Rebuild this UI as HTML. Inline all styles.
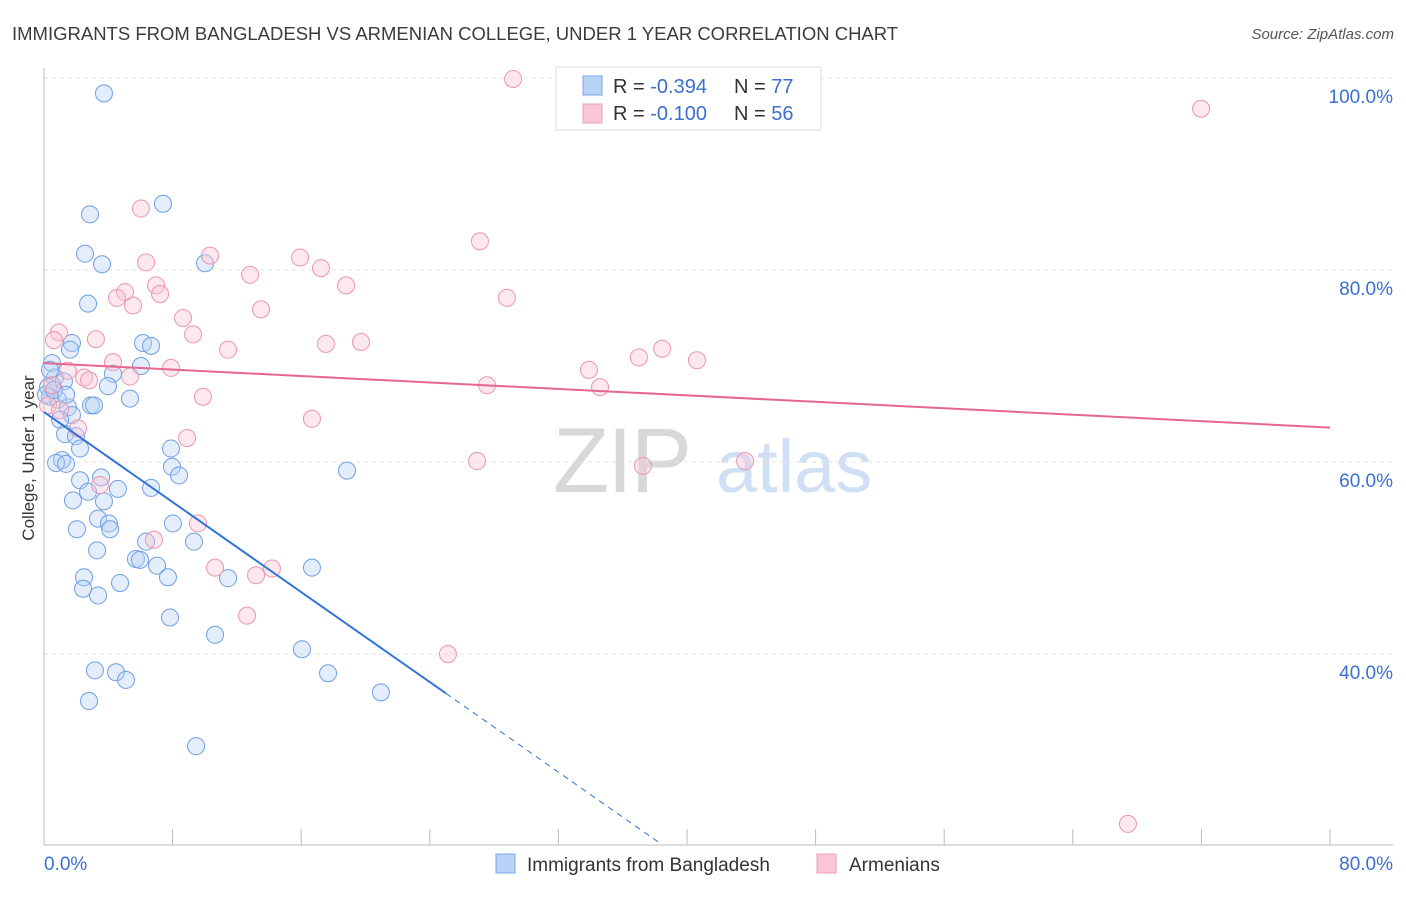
<!DOCTYPE html>
<html><head><meta charset="utf-8"><style>
body{margin:0;background:#fff;font-family:"Liberation Sans",sans-serif;}
svg text{font-family:"Liberation Sans",sans-serif;}
</style></head><body>
<svg id="chart" width="1406" height="892" viewBox="0 0 1406 892" xmlns="http://www.w3.org/2000/svg">
<text x="12" y="40" font-size="18.5" fill="#3b3b3b">IMMIGRANTS FROM BANGLADESH VS ARMENIAN COLLEGE, UNDER 1 YEAR CORRELATION CHART</text>
<text x="1394" y="39" font-size="15" fill="#555" text-anchor="end" font-style="italic">Source: ZipAtlas.com</text>
<g>
<text x="553" y="492" font-size="92" fill="#d8d8d8" font-family="Liberation Serif" letter-spacing="-2">ZIP</text>
<text x="716" y="492" font-size="74" fill="#cfe0f5">atlas</text>
</g>
<g id="grid"></g>
<g id="axes"></g>
<g id="series-blue"></g>
<g id="series-pink"></g>
<g id="trends"></g>
<text transform="translate(34,458) rotate(-90)" font-size="17" fill="#333" text-anchor="middle">College, Under 1 year</text>
<g>
<rect x="556" y="67" width="265" height="63" fill="#fff" stroke="#ddd"/>
<rect x="583" y="76" width="19" height="19" fill="#b8d3f5" stroke="#7aa8e6"/>
<rect x="583" y="104" width="19" height="19" fill="#f9c6d5" stroke="#ec9fb6"/>
<text x="613" y="93" font-size="20" fill="#333">R = <tspan fill="#3a6fd1">-0.394</tspan></text>
<text x="734" y="93" font-size="20" fill="#333">N = <tspan fill="#3a6fd1">77</tspan></text>
<text x="613" y="120" font-size="20" fill="#333">R = <tspan fill="#3a6fd1">-0.100</tspan></text>
<text x="734" y="120" font-size="20" fill="#333">N = <tspan fill="#3a6fd1">56</tspan></text>
</g>
<g>
<rect x="496" y="854" width="19" height="19" fill="#b8d3f5" stroke="#7aa8e6"/>
<text x="527" y="871" font-size="19" fill="#333">Immigrants from Bangladesh</text>
<rect x="817" y="854" width="19" height="19" fill="#f9c6d5" stroke="#ec9fb6"/>
<text x="849" y="871" font-size="19" fill="#333">Armenians</text>
</g>
</svg>
<script>
const blueX=[3.73,7.40,2.86,2.55,3.61,10.02,2.74,6.16,6.66,1.74,1.62,6.03,0.50,4.29,0.68,1.24,0.25,3.98,0.37,0.87,5.35,1.49,2.92,3.11,1.74,1.0,1.31,1.99,2.24,7.90,1.12,0.75,1.37,7.96,8.40,18.85,3.55,2.24,4.60,6.66,2.74,1.80,3.73,3.36,4.04,4.11,2.05,8.02,6.35,9.33,3.30,5.72,5.97,7.03,16.67,2.49,7.71,11.45,4.73,2.43,3.36,7.84,10.64,16.05,3.17,4.48,5.10,17.67,20.96,2.80,9.46,0.37,0.12,0.62,1.37];
const blueY=[98.4,86.9,85.8,81.7,80.6,80.7,76.5,72.4,72.1,72.4,71.7,70.0,70.3,69.2,68.8,68.4,67.8,67.9,66.8,66.5,66.6,65.7,65.9,65.9,64.9,64.4,62.9,62.7,61.4,61.4,60.2,59.9,59.8,59.5,58.6,59.1,58.4,58.1,57.2,57.3,56.9,56.0,55.9,54.1,53.6,53.0,53.0,53.6,51.7,51.7,50.8,49.9,49.8,49.2,49.0,48.0,48.0,47.9,47.4,46.8,46.1,43.8,42.0,40.5,38.3,38.1,37.3,38.0,36.0,35.1,30.4,69.6,67.0,67.5,67.0];
const pinkX=[29.18,71.98,6.03,27.12,10.33,15.93,17.23,6.35,12.82,6.97,18.79,5.04,4.54,7.22,28.80,5.54,13.50,8.65,0.93,3.23,9.27,0.62,17.54,19.72,11.45,38.45,37.01,40.62,4.29,33.90,7.90,2.49,5.35,34.59,27.56,1.49,2.80,9.89,16.67,2.12,8.90,26.94,37.26,43.61,3.48,6.84,9.58,10.64,13.19,14.18,12.63,25.13,67.43,0.50,0.25,1.0];
const pinkY=[99.9,96.8,86.4,83.0,81.5,81.3,80.2,80.8,79.5,78.4,78.4,77.7,77.1,77.5,77.1,76.3,75.9,75.0,73.5,72.8,73.3,72.7,72.3,72.5,71.7,71.8,70.9,70.6,70.4,69.6,69.8,68.8,68.9,67.8,68.0,69.5,68.5,66.8,64.5,63.5,62.5,60.1,59.6,60.1,57.6,51.9,53.6,49.0,48.2,48.9,44.0,40.0,22.3,68.0,65.9,65.4];
const yTicks=[100,80,60,40];
const yTickLabels=["100.0%","80.0%","60.0%","40.0%"];
const xTickVals=[0,8,16,24,32,40,48,56,64,72,80];
const blueTrend=[65.2,-1.172];
const pinkTrend=[70.3,-0.084];
const NS="http://www.w3.org/2000/svg";
function sx(v){return 44+v*16.075;}
function sy(v){return 1038-v*9.6;}
function mk(t,a,p){const e=document.createElementNS(NS,t);for(const k in a)e.setAttribute(k,a[k]);p.appendChild(e);return e;}
const grid=document.getElementById('grid'),axes=document.getElementById('axes');
yTicks.forEach((v,i)=>{
 const l=mk('line',{x1:44,x2:1393,y1:sy(v),y2:sy(v),stroke:'#e3e3e3','stroke-dasharray':'4,4'},grid);
 
 
 const t=mk('text',{x:1393,y:sy(v)+25,'font-size':19,fill:'#3a6fd1','text-anchor':'end'},axes);
 t.textContent=yTickLabels[i];
 
 
});
const ax=mk('line',{x1:44,x2:1393,y1:845,y2:845,stroke:'#bbb'},axes);


const ay=mk('line',{x1:44,x2:44,y1:68,y2:845,stroke:'#bbb'},axes);


xTickVals.forEach(v=>{
 const t=mk('line',{x1:sx(v),x2:sx(v),y1:829,y2:845,stroke:'#bbb'},axes);
 
 
});
const x0=mk('text',{x:44,y:870,'font-size':19,fill:'#3a6fd1'},axes);x0.textContent='0.0%';


const x1=mk('text',{x:1393,y:870,'font-size':19,fill:'#3a6fd1','text-anchor':'end'},axes);x1.textContent='80.0%';


function pts(X,Y,g,fill,stroke,name){
 X.forEach((x,i)=>{
  const c=mk('circle',{cx:sx(x),cy:sy(Y[i]),r:8.5,fill:fill,'fill-opacity':0.4,stroke:stroke,'stroke-width':1},g);
  
  
 });
}
pts(blueX,blueY,document.getElementById('series-blue'),'#b8d3f5','#6f9fe3','bangladesh-point');
pts(pinkX,pinkY,document.getElementById('series-pink'),'#f9c6d5','#eb96b0','armenian-point');
const tr=document.getElementById('trends');
const f=(c,x)=>c[0]+c[1]*x;
const b1=mk('line',{x1:sx(0),y1:sy(f(blueTrend,0)),x2:sx(25),y2:sy(f(blueTrend,25)),stroke:'#2f74d9','stroke-width':2},tr);


const b2=mk('line',{x1:sx(25),y1:sy(f(blueTrend,25)),x2:sx(38.3),y2:sy(f(blueTrend,38.3)),stroke:'#2f74d9','stroke-width':1,'stroke-dasharray':'6,5'},tr);


const p1=mk('line',{x1:sx(0),y1:sy(f(pinkTrend,0)),x2:sx(80),y2:sy(f(pinkTrend,80)),stroke:'#e5668f','stroke-width':2},tr);


</script>
</body></html>
